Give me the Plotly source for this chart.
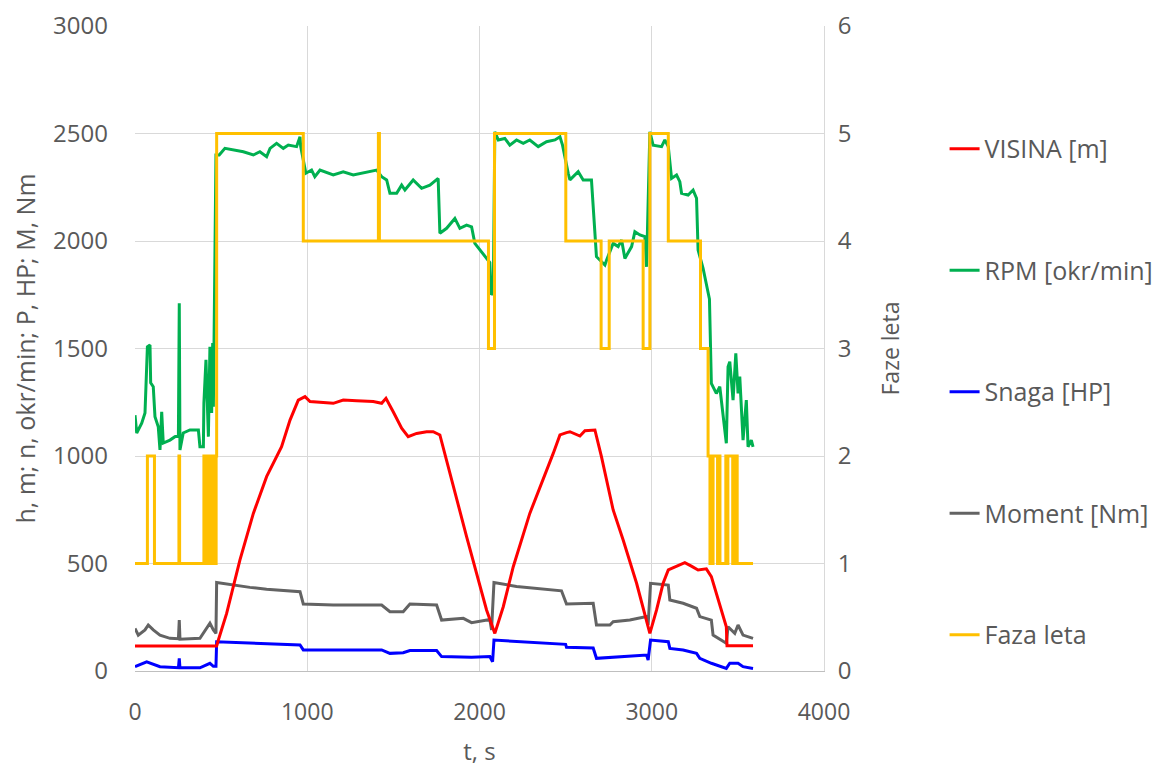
import plotly.graph_objects as go

# ---------------- data ----------------
t_visina = [0, 474, 484, 532, 609, 687, 764, 851, 900, 948, 987, 1016, 1151, 1209, 1287, 1383, 1432, 1457,
            1499, 1548, 1586, 1635, 1693, 1731, 1770, 1847, 1925, 1983, 2041, 2089, 2138, 2196, 2292, 2428,
            2467, 2505, 2525, 2583, 2612, 2670, 2708, 2776, 2834, 2912, 2960, 2989, 3028, 3066, 3096, 3134,
            3192, 3230, 3269, 3317, 3346, 3433, 3437, 3588]
visina = [116, 116, 144, 268, 516, 733, 904, 1043, 1167, 1260, 1276, 1253, 1245, 1260, 1257, 1253, 1245, 1268,
          1206, 1129, 1090, 1105, 1113, 1113, 1098, 857, 625, 454, 284, 175, 299, 485, 733, 1012,
          1098, 1109, 1113, 1093, 1118, 1121, 997, 749, 609, 408, 268, 175, 284, 408, 470, 482,
          504, 488, 470, 475, 439, 206, 118, 118]

t_rpm = [0, 10, 39, 58, 72, 87, 91, 106, 116, 135, 145, 155, 164, 203, 232, 252, 257, 261, 280, 319, 368, 377,
         397, 400, 412, 426, 435, 445, 451, 455, 470, 489, 522, 571, 629, 687, 725, 764, 784, 822, 861, 890,
         938, 958, 962, 992, 1025, 1044, 1074, 1151, 1209, 1267, 1345, 1403, 1432, 1461, 1480, 1519, 1548,
         1567, 1615, 1664, 1712, 1760, 1770, 1809, 1857, 1886, 1925, 1954, 1973, 2012, 2041, 2060, 2068,
         2080, 2089, 2109, 2147, 2176, 2215, 2254, 2292, 2341, 2389, 2438, 2467, 2482, 2515, 2525, 2573,
         2602, 2650, 2670, 2679, 2728, 2738, 2776, 2805, 2825, 2844, 2883, 2902, 2931, 2960, 2970, 2989,
         3008, 3057, 3076, 3096, 3115, 3144, 3163, 3173, 3211, 3240, 3260, 3269, 3298, 3320, 3335, 3346,
         3375, 3395, 3414, 3433, 3443, 3453, 3472, 3488, 3501, 3511, 3530, 3549, 3559, 3578, 3588]
rpm = [1190, 1107, 1153, 1200, 1508, 1516, 1340, 1322, 1183, 1136, 1028, 1206, 1060, 1074, 1090, 1095, 1711,
       1028, 1107, 1121, 1121, 1043, 1043, 1246, 1447, 1090, 1508, 1200, 1525, 1229, 2400, 2400, 2431, 2423,
       2415, 2400, 2415, 2392, 2431, 2454, 2431, 2446, 2439, 2485, 2439, 2315, 2330, 2299, 2330, 2307, 2322,
       2307, 2322, 2330, 2299, 2284, 2222, 2222, 2260, 2237, 2284, 2245, 2260, 2291, 2036, 2059, 2105, 2059,
       2074, 2066, 1989, 1950, 1919, 1900, 1750, 1760, 2508, 2470, 2477, 2446, 2470, 2454, 2470, 2439, 2462,
       2470, 2485, 2446, 2315, 2284, 2322, 2284, 2284, 2036, 1927, 1888, 1912, 1989, 1974, 2005, 1919, 1974,
       2043, 2028, 2020, 1880, 2508, 2446, 2439, 2470, 2439, 2291, 2307, 2276, 2222, 2214, 2237, 2199, 1958,
       1873, 1780, 1730, 1338, 1291, 1322, 1198, 1059, 1415, 1439, 1260, 1477, 1291, 1369, 1074, 1260, 1043,
       1074, 1043]

t_snaga = [0, 68, 145, 252, 257, 261, 377, 435, 455, 470, 474, 958, 977, 1432, 1480, 1557, 1596, 1751, 1780,
           1954, 2060, 2076, 2084, 2476, 2500, 2505, 2660, 2679, 2970, 2979, 2993, 3096, 3105, 3182, 3260,
           3279, 3346, 3433, 3453, 3501, 3530, 3588]
snaga = [20, 43, 20, 15, 59, 15, 15, 36, 22, 22, 136, 121, 98, 98, 82, 85, 95, 95, 67,
         64, 67, 43, 144, 126, 124, 110, 107, 59, 74, 51, 144, 136, 105, 98, 82,
         59, 36, 12, 36, 36, 20, 12]

t_moment = [0, 19, 58, 77, 106, 145, 203, 252, 257, 261, 377, 416, 435, 455, 470, 474, 571, 667, 764, 861,
            958, 977, 1151, 1287, 1432, 1480, 1557, 1596, 1751, 1780, 1906, 1954, 2060, 2070, 2084, 2215,
            2331, 2476, 2505, 2660, 2679, 2757, 2776, 2873, 2970, 2979, 2993, 3096, 3105, 3182, 3260, 3279,
            3346, 3356, 3433, 3443, 3482, 3501, 3530, 3588]
moment = [198, 167, 191, 214, 191, 167, 152, 150, 237, 148, 152, 198, 222, 191, 175, 412, 400, 389, 380, 373,
          369, 312, 307, 307, 307, 276, 276, 312, 307, 237, 245, 225, 240, 191, 412, 393,
          385, 373, 312, 315, 214, 214, 229, 237, 253, 214, 408, 400, 330, 315, 292, 253,
          237, 167, 129, 206, 175, 214, 167, 152]

# flight phase: value holds from each change time until the next one
t_faza = [0, 72, 113, 255, 259, 400, 405, 411, 417, 423, 429, 435, 441, 447, 453, 459, 465, 471, 474, 977,
          1413, 1419, 2052, 2087, 2501, 2706, 2753, 2950, 2989, 3096, 3283, 3327, 3338, 3344, 3350, 3356,
          3382, 3388, 3396, 3430, 3436, 3442, 3470, 3476, 3484, 3490, 3496, 3588]
faza = [1, 2, 1, 2, 1, 2, 1, 2, 1, 2, 1, 2, 1, 2, 1, 2, 1, 2, 5, 4,
        5, 4, 3, 5, 4, 3, 4, 3, 5, 4, 3, 2, 1, 2, 1, 2,
        1, 2, 1, 2, 1, 2, 1, 2, 1, 2, 1, 1]

names = ["VISINA [m]", "RPM [okr/min]", "Snaga [HP]", "Moment [Nm]", "Faza leta"]
colors = ["#FF0000", "#00B050", "#0000FF", "#636363", "#FFC000"]

x_ticks = [0, 1000, 2000, 3000, 4000]
y_ticks = [0, 500, 1000, 1500, 2000, 2500, 3000]
y2_ticks = [0, 1, 2, 3, 4, 5, 6]

# ---------------- figure ----------------
FONT = "Open Sans"
TXT = "#595959"
fig = go.Figure()

def add(tx, vy, i, rank, yaxis="y", shape="linear"):
    fig.add_trace(go.Scatter(
        x=tx, y=vy, name=names[i], mode="lines", yaxis=yaxis,
        line=dict(color=colors[i], width=3, shape=shape),
        legendgroup=names[i], legendrank=rank,
    ))

add(t_rpm, rpm, 1, 2)
add(t_snaga, snaga, 2, 3)
add(t_moment, moment, 3, 4)
add(t_visina, visina, 0, 1)
add(t_faza, faza, 4, 5, yaxis="y2", shape="hv")

# the page body has an 8px default margin, so the figure is sized/offset accordingly
fig.update_layout(
    width=1156, height=759,
    margin=dict(l=127, r=340, t=18, b=96, autoexpand=False),
    paper_bgcolor="white", plot_bgcolor="white",
    font=dict(family=FONT, color=TXT, size=23),
    xaxis=dict(
        range=[0, 4000], tickvals=x_ticks, ticktext=[str(v) for v in x_ticks],
        showgrid=True, gridcolor="#d9d9d9", gridwidth=1, zeroline=False,
        showline=True, linecolor="#bfbfbf", linewidth=1, automargin=False,
        tickfont=dict(size=23, color=TXT), ticklabelstandoff=20,
        title=dict(text="t, s", font=dict(size=24, color=TXT), standoff=18),
    ),
    yaxis=dict(
        range=[0, 3000], tickvals=y_ticks, ticktext=[str(v) for v in y_ticks],
        showgrid=True, gridcolor="#d9d9d9", gridwidth=1, zeroline=False, showline=False,
        automargin=False,
        tickfont=dict(size=24, color=TXT), ticklabelstandoff=26,
        title=dict(text="h, m; n, okr/min; P, HP; M, Nm", font=dict(size=25, color=TXT), standoff=18),
    ),
    yaxis2=dict(
        range=[0, 6], tickvals=y2_ticks, ticktext=[str(v) for v in y2_ticks],
        overlaying="y", side="right", showgrid=False, zeroline=False,
        showline=True, linecolor="#d9d9d9", linewidth=1, automargin=False,
        tickfont=dict(size=24, color=TXT), ticklabelstandoff=8,
        title=dict(text="Faze leta", font=dict(size=23, color=TXT), standoff=32),
    ),
    legend=dict(
        x=1.175, xanchor="left", y=0.845, yanchor="top",
        font=dict(size=25, color=TXT, family=FONT),
        traceorder="grouped", tracegroupgap=86,
        bgcolor="rgba(0,0,0,0)", borderwidth=0,
    ),
    showlegend=True,
)

fig.write_html("out.html")
